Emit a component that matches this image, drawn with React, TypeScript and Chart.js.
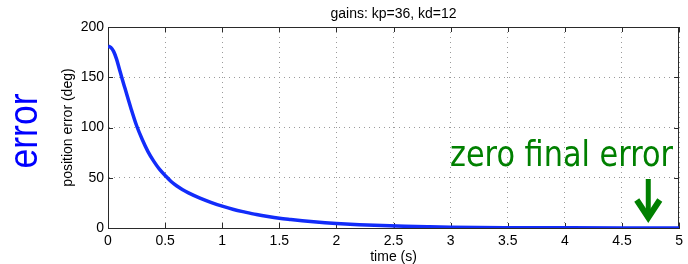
import React, { useEffect, useRef } from 'react';
import { Chart, registerables } from 'chart.js';

Chart.register(...registerables);

// ---- data ----
const timeS = [0, 0.025, 0.05, 0.075, 0.1, 0.125, 0.15, 0.2, 0.25, 0.3, 0.35, 0.4, 0.45, 0.5, 0.55, 0.6, 0.65, 0.7, 0.8, 0.9, 1.0, 1.1, 1.2, 1.3, 1.4, 1.5, 1.6, 1.7, 1.8, 1.9, 2.0, 2.2, 2.4, 2.6, 2.8, 3.0, 3.5, 4.0, 4.5, 5.0];
const errorDeg = [181, 179.5, 175.5, 168, 158, 148, 138.5, 119.5, 102, 88, 76, 66.5, 58.5, 52.3, 46.5, 42, 38.3, 35.2, 30, 25.6, 21.7, 18.4, 15.8, 13.4, 11.4, 9.7, 8.4, 7.2, 6.2, 5.3, 4.5, 3.3, 2.4, 1.7, 1.2, 0.8, 0.35, 0.15, 0.05, 0.02];
const xTicks = [0, 0.5, 1, 1.5, 2, 2.5, 3, 3.5, 4, 4.5, 5];
const yTicks = [0, 50, 100, 150, 200];
const titleText = 'gains: kp=36, kd=12';
const xTitle = 'time (s)';
const yTitle = 'position error (deg)';
const sideLabel = 'error';
const noteText = 'zero final error';
const arrowAtTime = 4.73;

const BLUE = 'rgb(18,44,250)';
const GREEN = 'rgb(0,128,0)';
const BASE_FONT = '"Liberation Sans", Arial, Helvetica, sans-serif';

const boxPlugin = {
  id: 'matlabBox',
  beforeDatasetsDraw(chart: any) {
    const { ctx, chartArea: a, scales } = chart;
    const xs = scales.x;
    const ys = scales.y;
    ctx.save();
    ctx.setLineDash([]);
    ctx.strokeStyle = '#2a2a2a';
    ctx.lineWidth = 1;
    ctx.beginPath();
    xTicks.forEach((v) => {
      const px = Math.round(xs.getPixelForValue(v)) + 0.5;
      ctx.moveTo(px, a.bottom);
      ctx.lineTo(px, a.bottom - 5);
      ctx.moveTo(px, a.top);
      ctx.lineTo(px, a.top + 5);
    });
    yTicks.forEach((v) => {
      const py = Math.round(ys.getPixelForValue(v)) + 0.5;
      ctx.moveTo(a.left, py);
      ctx.lineTo(a.left + 5, py);
      ctx.moveTo(a.right, py);
      ctx.lineTo(a.right - 5, py);
    });
    ctx.stroke();
    ctx.strokeRect(Math.round(a.left) + 0.5, Math.round(a.top) + 0.5, Math.round(a.right - a.left) - 1, Math.round(a.bottom - a.top));
    ctx.restore();
  },
  afterDraw(chart: any) {
    const { ctx, scales } = chart;
    const xs = scales.x;
    ctx.save();
    // big rotated side label
    ctx.font = `41px ${BASE_FONT}`;
    const w1 = ctx.measureText(sideLabel).width;
    ctx.translate(36.5, 131);
    ctx.rotate(-Math.PI / 2);
    ctx.scale(75 / w1, 1);
    ctx.fillStyle = 'rgb(0,0,255)';
    ctx.textAlign = 'center';
    ctx.textBaseline = 'alphabetic';
    ctx.fillText(sideLabel, 0, 0);
    ctx.restore();

    // green annotation text
    ctx.save();
    ctx.font = '35px "DejaVu Sans", Verdana, sans-serif';
    const w2 = ctx.measureText(noteText).width;
    ctx.translate(450, 166);
    ctx.scale(223 / w2, 1);
    ctx.fillStyle = GREEN;
    ctx.textAlign = 'left';
    ctx.textBaseline = 'alphabetic';
    ctx.fillText(noteText, 0, 0);
    ctx.restore();

    // green arrow
    const px = xs.getPixelForValue(arrowAtTime);
    ctx.save();
    ctx.strokeStyle = GREEN;
    ctx.lineWidth = 5;
    ctx.lineCap = 'butt';
    ctx.beginPath();
    ctx.moveTo(px, 179);
    ctx.lineTo(px, 215);
    ctx.stroke();
    ctx.lineWidth = 6;
    ctx.lineJoin = 'miter';
    ctx.beginPath();
    ctx.moveTo(px - 11.5, 200);
    ctx.lineTo(px, 217.5);
    ctx.lineTo(px + 11.5, 200);
    ctx.stroke();
    ctx.restore();
  },
};

export default function App() {
  const ref = useRef<HTMLCanvasElement | null>(null);
  useEffect(() => {
    if (!ref.current) return;
    const gridCommon = {
      color: '#9a9a9a',
      lineWidth: 1,
      drawTicks: false,
    };
    const borderCommon = { display: true, color: '#2a2a2a', width: 1, dash: [1, 4] };
    const chart = new Chart(ref.current, {
      type: 'line',
      data: {
        datasets: [
          {
            data: timeS.map((t, i) => ({ x: t, y: errorDeg[i] })),
            borderColor: BLUE,
            borderWidth: 3.5,
            pointRadius: 0,
            cubicInterpolationMode: 'monotone',
            fill: false,
          },
        ],
      },
      options: {
        animation: false,
        responsive: false,
        events: [],
        layout: { padding: { left: 0, right: 5, top: 0, bottom: 0 } },
        plugins: {
          legend: { display: false },
          tooltip: { enabled: false },
          title: {
            display: true,
            text: titleText,
            fullSize: false,
            color: '#000',
            font: { family: BASE_FONT, size: 14, weight: 'normal' },
            padding: { top: 6, bottom: 4.2 },
          },
        },
        scales: {
          x: {
            type: 'linear',
            min: 0,
            max: 5,
            afterFit: (s: any) => {
              s.height = 36;
            },
            afterBuildTicks: (s: any) => {
              s.ticks = xTicks.map((v) => ({ value: v }));
            },
            grid: gridCommon,
            border: borderCommon,
            ticks: {
              autoSkip: false,
              maxRotation: 0,
              padding: 5,
              color: '#000',
              font: { family: BASE_FONT, size: 14 },
              callback: (v: any) => String(v),
            },
            title: {
              display: true,
              text: xTitle,
              color: '#000',
              font: { family: BASE_FONT, size: 14 },
              padding: { top: 0, bottom: -2 },
            },
          },
          y: {
            type: 'linear',
            min: 0,
            max: 200,
            afterFit: (s: any) => {
              s.width = 108;
            },
            afterBuildTicks: (s: any) => {
              s.ticks = yTicks.map((v) => ({ value: v }));
            },
            grid: gridCommon,
            border: borderCommon,
            ticks: {
              autoSkip: false,
              padding: 4,
              color: '#000',
              font: { family: BASE_FONT, size: 14 },
              callback: (v: any) => String(v),
            },
            title: {
              display: true,
              text: yTitle,
              color: '#000',
              font: { family: BASE_FONT, size: 14 },
              padding: { top: 60, bottom: 0 },
            },
          },
        },
      } as any,
      plugins: [boxPlugin],
    });
    return () => chart.destroy();
  }, []);
  return (
    <canvas
      ref={ref}
      width={688}
      height={264}
      style={{ position: 'absolute', left: 0, top: 0, width: 688, height: 264, background: '#fff' }}
    />
  );
}
